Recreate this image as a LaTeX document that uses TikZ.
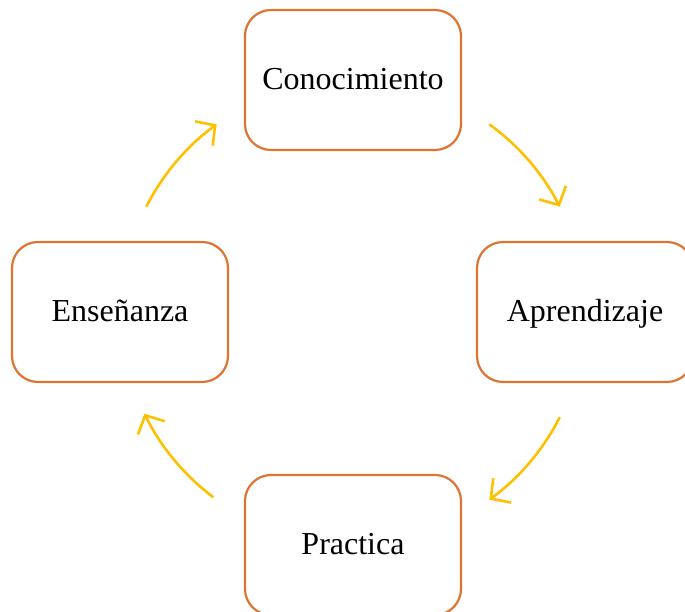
\documentclass[tikz,border=0pt]{standalone}
\usepackage{fontspec}
\setmainfont{Liberation Serif}
\usetikzlibrary{arrows.meta}
\definecolor{naranja}{HTML}{DE7430}
\definecolor{oro}{HTML}{FFC000}
\tikzset{
	caja/.style={draw=naranja,line width=2.2pt,rounded corners=26pt,minimum width=216pt,minimum height=140pt,text height=22pt,text depth=2pt,font=\fontsize{32}{38}\selectfont},
	flecha/.style={oro,line width=2.6pt,->}
}
\begin{document}
\begin{tikzpicture}[x=1pt,y=1pt,>={Straight Barb[length=14pt,width=30pt]}]
			\useasboundingbox (0,0) rectangle (685,612);
			\coordinate (c) at (353,300);
			\node[caja] (con) at (353,532) {Conocimiento};
			\node[caja] (apr) at (585,300) {Aprendizaje};
			\node[caja] (pra) at (353,67) {Practica};
			\node[caja] (ens) at (120,300) {Enseñanza};
			% ciclo
			\foreach \a in {54,-27,233,153}
				\draw[flecha] ([shift={(\a:232)}]c) arc[start angle=\a,delta angle=-27,radius=232];
		\end{tikzpicture}
\end{document}
